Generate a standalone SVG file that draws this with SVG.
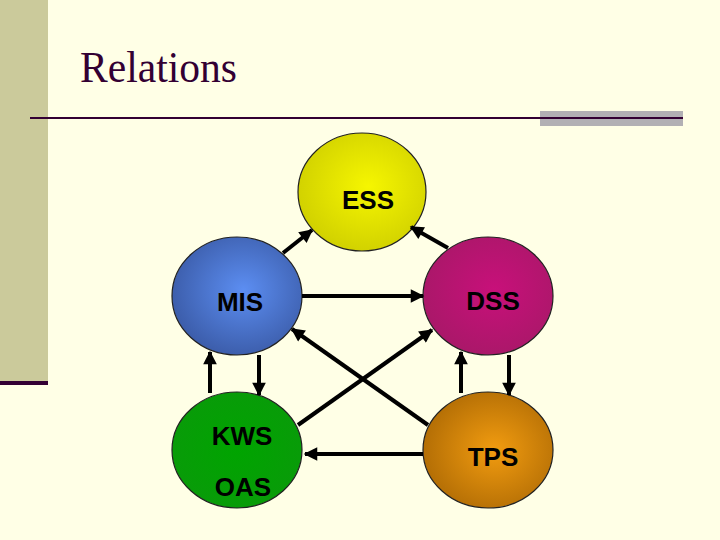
<svg xmlns="http://www.w3.org/2000/svg" width="720" height="540" viewBox="0 0 720 540">
<defs>
<radialGradient id="gEss" cx="0.55" cy="0.45" r="0.6"><stop offset="0" stop-color="#F6F600"/><stop offset="1" stop-color="#CFCF00"/></radialGradient>
<radialGradient id="gMis" cx="0.55" cy="0.45" r="0.6"><stop offset="0" stop-color="#5C8EF2"/><stop offset="1" stop-color="#3A5AA6"/></radialGradient>
<radialGradient id="gDss" cx="0.55" cy="0.45" r="0.6"><stop offset="0" stop-color="#C8107A"/><stop offset="1" stop-color="#A81868"/></radialGradient>
<radialGradient id="gKws" cx="0.5" cy="0.5" r="0.6"><stop offset="0" stop-color="#00A400"/><stop offset="1" stop-color="#0A9A0A"/></radialGradient>
<radialGradient id="gTps" cx="0.55" cy="0.5" r="0.6"><stop offset="0" stop-color="#F29C10"/><stop offset="1" stop-color="#AE6A04"/></radialGradient>
<marker id="ah" viewBox="0 0 10 10" refX="9" refY="5" markerWidth="3.6" markerHeight="3.4" orient="auto" markerUnits="strokeWidth"><path d="M0,0 L10,5 L0,10 z" fill="#000"/></marker>
</defs>
<style>
.node ellipse{stroke:#222;stroke-width:1.2}
.lbl{font-family:"Liberation Sans",Arial,sans-serif;font-size:26px;font-weight:bold;fill:#000;text-anchor:middle}
.conn line{stroke:#000;stroke-width:4;marker-end:url(#ah)}
</style>
<rect width="720" height="540" fill="#FFFFE6"/>
<rect x="0" y="0" width="48" height="382" fill="#CBCA9B"/>
<rect x="0" y="381" width="48" height="4" fill="#330033"/>
<text x="80" y="82" font-family="'Liberation Serif','Times New Roman',serif" font-size="44" fill="#330033" textLength="157" lengthAdjust="spacingAndGlyphs">Relations</text>
<rect x="540" y="111" width="143" height="15" fill="#B2B0B4"/>
<line x1="30" y1="118" x2="683" y2="118" stroke="#330033" stroke-width="2"/>
<g id="ess" class="node"><ellipse cx="362" cy="192" rx="64" ry="59" fill="url(#gEss)"/><text class="lbl" x="368" y="209">ESS</text></g>
<g id="mis" class="node"><ellipse cx="237" cy="296" rx="65" ry="59" fill="url(#gMis)"/><text class="lbl" x="240" y="311">MIS</text></g>
<g id="dss" class="node"><ellipse cx="488" cy="296" rx="65" ry="59" fill="url(#gDss)"/><text class="lbl" x="493" y="310">DSS</text></g>
<g id="kws" class="node"><ellipse cx="237" cy="450" rx="65" ry="58" fill="url(#gKws)"/><text class="lbl" x="242" y="445">KWS</text><text class="lbl" x="243" y="496">OAS</text></g>
<g id="tps" class="node"><ellipse cx="488" cy="450" rx="65" ry="58" fill="url(#gTps)"/><text class="lbl" x="493" y="466">TPS</text></g>
<g id="connectors" class="conn">
<line x1="283" y1="253" x2="312" y2="230"/>
<line x1="448" y1="248" x2="411" y2="227"/>
<line x1="302" y1="296" x2="423" y2="296"/>
<line x1="298" y1="425" x2="432" y2="330"/>
<line x1="428" y1="425" x2="292" y2="329"/>
<line x1="210" y1="393" x2="210" y2="352"/>
<line x1="259" y1="355" x2="259" y2="395"/>
<line x1="461" y1="393" x2="461" y2="352"/>
<line x1="509" y1="355" x2="509" y2="395"/>
<line x1="423" y1="454" x2="305" y2="454"/>
</g>
</svg>
